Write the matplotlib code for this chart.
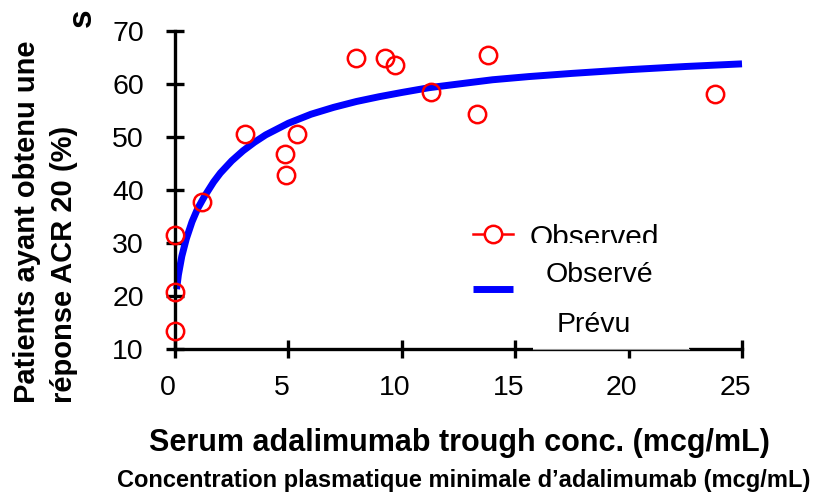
import matplotlib
matplotlib.use("Agg")
from matplotlib import pyplot as plt
from matplotlib.lines import Line2D
from matplotlib.patches import Rectangle
import matplotlib.transforms as mtransforms

plt.rcParams['font.family'] = ['Liberation Sans', 'DejaVu Sans']

# observed responders (%) vs trough concentration (mcg/mL)
obs_x = [0.0, 0.0, 0.0, 1.2, 3.1, 4.9, 4.87, 5.4, 8.0, 9.25, 9.7, 11.3, 13.3, 13.8, 23.8]
obs_y = [13.4, 20.8, 31.5, 37.7, 50.5, 42.8, 46.8, 50.5, 64.9, 65.0, 63.6, 58.5, 54.3, 65.5, 58.2]

# predicted curve
pred_x = [0.07, 0.15, 0.3, 0.5, 0.75, 1.0, 1.3, 1.7, 2.0, 2.5, 3.0, 3.5, 4.0, 5.0, 6.0,
          7.0, 8.0, 9.0, 10.0, 11.2, 12.5, 14.0, 15.6, 17.5, 20.0, 22.5, 25.0]
pred_y = [21.3, 24.0, 27.5, 30.8, 34.0, 36.5, 38.8, 41.5, 43.2, 45.5, 47.4, 49.0, 50.4, 52.6, 54.3,
          55.6, 56.7, 57.6, 58.4, 59.3, 60.0, 60.8, 61.4, 62.0, 62.7, 63.3, 63.8]

x_ticks = [0, 5, 10, 15, 20, 25]
y_ticks = [10, 20, 30, 40, 50, 60, 70]

W, H = 818, 497
def fx(px):
    return px / W
def fy(py):
    return 1 - py / H

fig = plt.figure(figsize=(W / 100, H / 100), dpi=100)
ax = fig.add_axes([fx(175), fy(349), fx(742) - fx(175), fy(31) - fy(349)])

ax.plot(pred_x, pred_y, color='#0000ff', lw=5, solid_capstyle='butt', zorder=2, clip_on=False)
ax.plot(obs_x, obs_y, 'o', ms=12.5, mfc='none', mec='#ff0000', mew=1.8, zorder=3, clip_on=False)

ax.set_xlim(0, 25)
ax.set_ylim(10, 70)
ax.set_xticks(x_ticks)
ax.set_yticks(y_ticks)
for s in ['top', 'right']:
    ax.spines[s].set_visible(False)
for s in ['left', 'bottom']:
    ax.spines[s].set_linewidth(2.4)
ax.tick_params(direction='inout', length=13, width=2.4, labelsize=20.5, pad=12)
ax.tick_params(axis='y', pad=16)
off = mtransforms.ScaledTranslation(-7 / 100, 0, fig.dpi_scale_trans)
for lab in ax.get_xticklabels():
    lab.set_transform(lab.get_transform() + off)

# y label (two lines, left aligned) and the leftover "s"
fig.text(fx(35), fy(403), "Patients ayant obtenu une", rotation=90, rotation_mode='anchor',
         ha='left', va='baseline', fontsize=21, fontweight='bold')
fig.text(fx(72), fy(403), "réponse ACR 20 (%)", rotation=90, rotation_mode='anchor',
         ha='left', va='baseline', fontsize=21, fontweight='bold')
fig.text(fx(82), fy(18), "s", rotation=90, ha='center', va='center', fontsize=24, fontweight='bold')

# x labels
fig.text(fx(459), fy(443), "Serum adalimumab trough conc. (mcg/mL)", ha='center', va='center',
         fontsize=22, fontweight='bold')
fig.text(fx(464), fy(481), "Concentration plasmatique minimale d\u2019adalimumab (mcg/mL)",
         ha='center', va='center', fontsize=17, fontweight='bold')

# legend, partly covered
fig.add_artist(Line2D([fx(473), fx(513)], [fy(234), fy(234)], color='#ff0000', lw=1.8))
fig.add_artist(Line2D([fx(493)], [fy(234)], color='#ff0000', marker='o', ms=12.5, mfc='white',
                      mec='#ff0000', mew=1.8, ls='none'))
fig.add_artist(Line2D([fx(473), fx(513)], [fy(289), fy(289)], color='#0000ff', lw=5,
                      solid_capstyle='butt'))
fig.text(fx(530), fy(246), "Observed", ha='left', va='baseline', fontsize=21.5)
fig.add_artist(Rectangle((fx(533), fy(349)), fx(689) - fx(533), fy(243) - fy(349),
                         transform=fig.transFigure, facecolor='white', edgecolor='none', zorder=5))
fig.add_artist(Line2D([fx(533), fx(689)], [fy(349), fy(349)], color='#999999', lw=0.8, zorder=6))
fig.text(fx(546), fy(282), "Observé", ha='left', va='baseline', fontsize=20.5, zorder=7)
fig.text(fx(557), fy(332), "Prévu", ha='left', va='baseline', fontsize=20.5, zorder=7)

fig.savefig("out.png", dpi=100)
